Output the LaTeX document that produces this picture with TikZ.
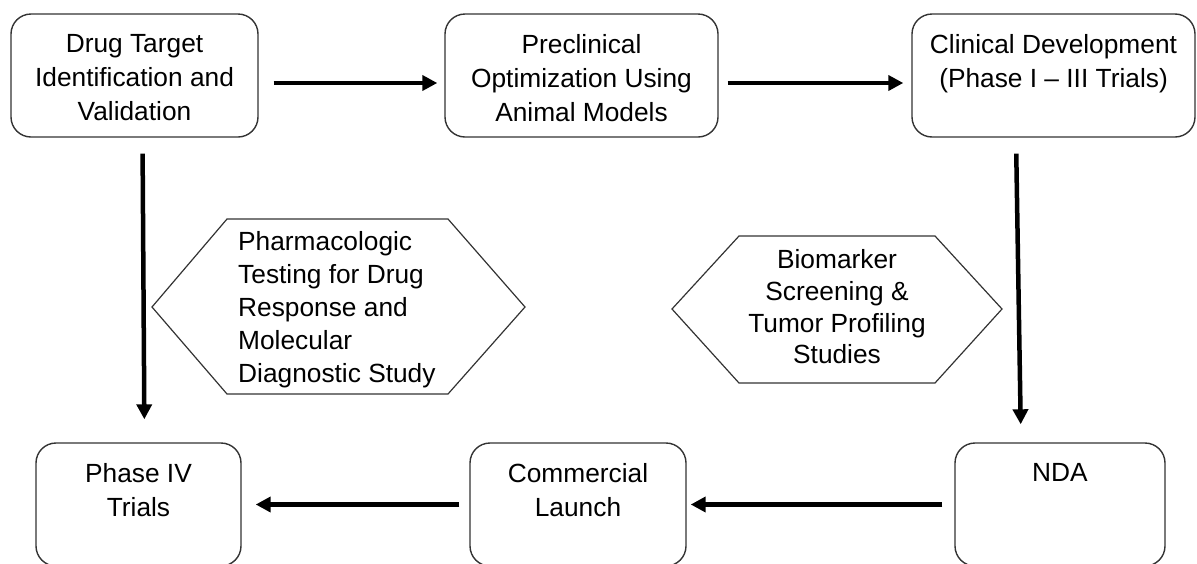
\documentclass[tikz,border=0pt]{standalone}
\usepackage{fontspec}
\setmainfont{Liberation Sans}
\usetikzlibrary{arrows.meta}

\newcommand{\boxfont}{\fontsize{26.3}{34}\selectfont}
\newcommand{\toptext}[3]{\parbox[c][#2][t]{#1}{\centering #3}}

\begin{document}
\begin{tikzpicture}[x=1pt,y=-1pt,
  box/.style={draw=black!80,line width=1.4pt,rounded corners=20pt,inner xsep=0pt,inner ysep=20pt,font=\boxfont},
  hextext/.style={inner sep=0pt,font=\fontsize{26.3}{33}\selectfont},
  hexa/.style={draw=black!80,line width=1.2pt},
  arr/.style={line width=4.5pt,-{Triangle[length=15pt,width=15pt]}}]
\useasboundingbox (0,0) rectangle (1197,563);
\clip (0,0) rectangle (1197,563);

\node[box] (dt)  at (134.5,75.5) {\toptext{247pt}{83pt}{Drug Target\\Identification and\\Validation}};
\node[box] (pre) at (581.5,75.5) {\toptext{273pt}{83pt}{Preclinical\\Optimization Using\\Animal Models}};
\node[box] (cd)  at (1053.5,75.5) {\toptext{283pt}{83pt}{Clinical Development\\(Phase I – III Trials)}};

\node[box] (ph4) at (138.5,504.5) {\toptext{205pt}{83pt}{Phase IV\\Trials}};
\node[box] (cl)  at (578,504.5) {\toptext{216pt}{83pt}{Commercial\\Launch}};
\node[box] (nda) at (1060,504.5) {\toptext{210pt}{83pt}{NDA}};

 \draw[hexa] (152,307) -- (227,219) -- (448,219) -- (525,307) -- (448,394) -- (227,394) -- cycle;
 \node[hextext,align=left,anchor=west] (pharm) at (238,310) {Pharmacologic\\Testing for Drug\\Response and\\Molecular\\Diagnostic Study};

 \draw[hexa] (672,309) -- (739,236) -- (935,236) -- (1002,309) -- (935,383) -- (739,383) -- cycle;
 \node[hextext,align=center,font=\fontsize{26.3}{31.7}\selectfont] (bio) at (837,307) {Biomarker\\Screening \&\\Tumor Profiling\\Studies};

\draw[arr,shorten <=15pt,shorten >=7pt] ([yshift=-7.5pt]dt.east) -- ([yshift=-7.5pt]pre.west);
\draw[arr,shorten <=9pt,shorten >=8pt] ([yshift=-7.5pt]pre.east) -- ([yshift=-7.5pt]cd.west);
\draw[arr,shorten <=16pt,shorten >=23pt] ([xshift=8pt]dt.south) -- ([xshift=6pt]ph4.north);
\draw[arr,shorten <=16pt,shorten >=18pt] ([xshift=-37.5pt]cd.south) -- ([xshift=-39pt]nda.north);
\draw[arr,shorten <=12pt,shorten >=4pt] (nda.west) -- (cl.east);
\draw[arr,shorten <=10pt,shorten >=14pt] (cl.west) -- (ph4.east);
\end{tikzpicture}
\end{document}
